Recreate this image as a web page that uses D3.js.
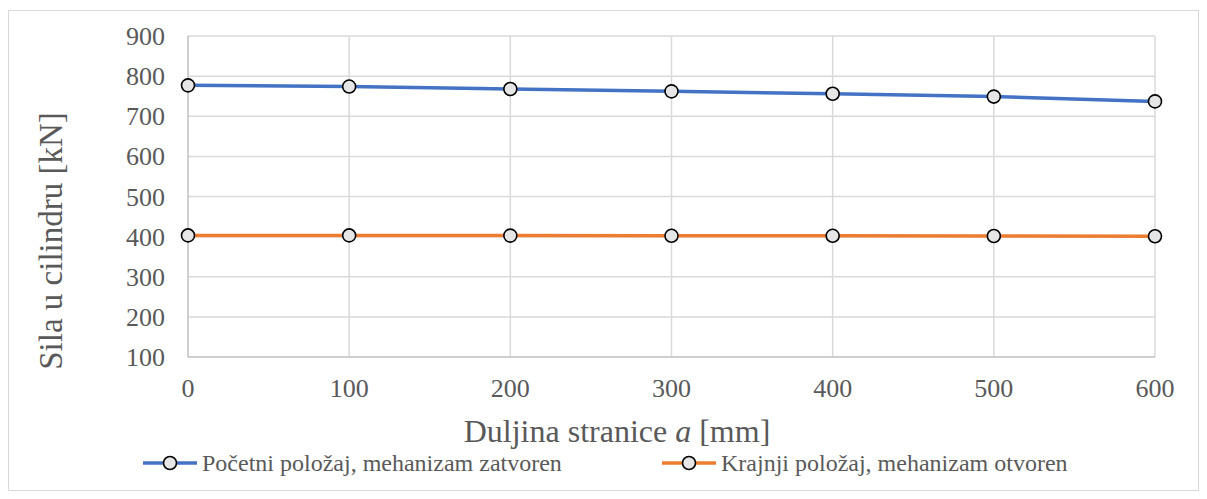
<!DOCTYPE html>
<html><head><meta charset="utf-8">
<script src="https://cdn.jsdelivr.net/npm/d3@7"></script>
<style>body{margin:0;background:#fff;}</style>
</head><body>
<svg id="c" width="1207" height="499"></svg>
<script>
const xValues = [0, 100, 200, 300, 400, 500, 600];
const seriesClosed = [777, 774, 768, 762, 756, 749, 737];
const seriesOpen = [403, 403, 402.5, 402, 402, 401.5, 401];
const seriesNames = ["Početni položaj, mehanizam zatvoren", "Krajnji položaj, mehanizam otvoren"];
const yTicks = [100, 200, 300, 400, 500, 600, 700, 800, 900];
const xTicks = [0, 100, 200, 300, 400, 500, 600];
const colors = ["#4472c4", "#ed7d31"];
const FONT = '"Liberation Serif", Tinos, "Times New Roman", serif';

const svg = d3.select("#c");
svg.append("rect").attr("x",8.5).attr("y",10.5).attr("width",1190).attr("height",480)
  .attr("fill","#fff").attr("stroke","#d9d9d9");

const x = d3.scaleLinear().domain([0,600]).range([188,1155]);
const y = d3.scaleLinear().domain([100,900]).range([357,36]);

function txt(sel){ return sel.style("font-family",FONT).attr("fill","#595959"); }

const g = svg.append("g");
g.selectAll(".hg").data(yTicks.slice(1)).enter().append("line")
  .attr("x1",x(0)).attr("x2",x(600)).attr("y1",d=>y(d)).attr("y2",d=>y(d))
  .attr("stroke","#d9d9d9").attr("stroke-width",1.5);
g.selectAll(".vg").data(xTicks.slice(1)).enter().append("line")
  .attr("x1",d=>x(d)).attr("x2",d=>x(d)).attr("y1",y(100)).attr("y2",y(900))
  .attr("stroke","#d9d9d9").attr("stroke-width",1.5);
g.append("line").attr("x1",x(0)).attr("x2",x(600)).attr("y1",y(100)).attr("y2",y(100)).attr("stroke","#bfbfbf").attr("stroke-width",1.5);
g.append("line").attr("x1",x(0)).attr("x2",x(0)).attr("y1",y(100)).attr("y2",y(900)).attr("stroke","#bfbfbf").attr("stroke-width",1.5);

txt(g.selectAll(".yl").data(yTicks).enter().append("text"))
  .attr("x",165).attr("y",d=>y(d)+9).attr("text-anchor","end")
  .style("font-size","26px").text(d=>d);
txt(g.selectAll(".xl").data(xTicks).enter().append("text"))
  .attr("x",d=>x(d)).attr("y",397).attr("text-anchor","middle")
  .style("font-size","26px").text(d=>d);

const xt = txt(svg.append("text")).attr("x",617).attr("y",442).attr("text-anchor","middle")
  .style("font-size","32px");
xt.append("tspan").text("Duljina stranice ");
xt.append("tspan").style("font-style","italic").text("a");
xt.append("tspan").text(" [mm]");
txt(svg.append("text")).attr("transform","translate(62,241) rotate(-90)").attr("text-anchor","middle")
  .style("font-size","33px").text("Sila u cilindru [kN]");

const line = d3.line().x((d,i)=>x(xValues[i])).y(d=>y(d));
[seriesClosed, seriesOpen].forEach((s,k)=>{
  g.append("path").datum(s).attr("d",line).attr("fill","none")
    .attr("stroke",colors[k]).attr("stroke-width",3.5);
  g.selectAll(".m"+k).data(s).enter().append("circle")
    .attr("cx",(d,i)=>x(xValues[i])).attr("cy",d=>y(d)).attr("r",6.5)
    .attr("fill","#e6e6e6").attr("stroke","#000").attr("stroke-width",1.6);
});

const legX = [143, 662];
seriesNames.forEach((n,k)=>{
  const lg = svg.append("g").attr("transform",`translate(${legX[k]},463)`);
  lg.append("line").attr("x1",0).attr("x2",54).attr("stroke",colors[k]).attr("stroke-width",3.5);
  lg.append("circle").attr("cx",27).attr("r",6.5).attr("fill","#e6e6e6").attr("stroke","#000").attr("stroke-width",1.6);
  txt(lg.append("text")).attr("x",59).attr("y",8).style("font-size","24px").text(n);
});
</script>
</body></html>
